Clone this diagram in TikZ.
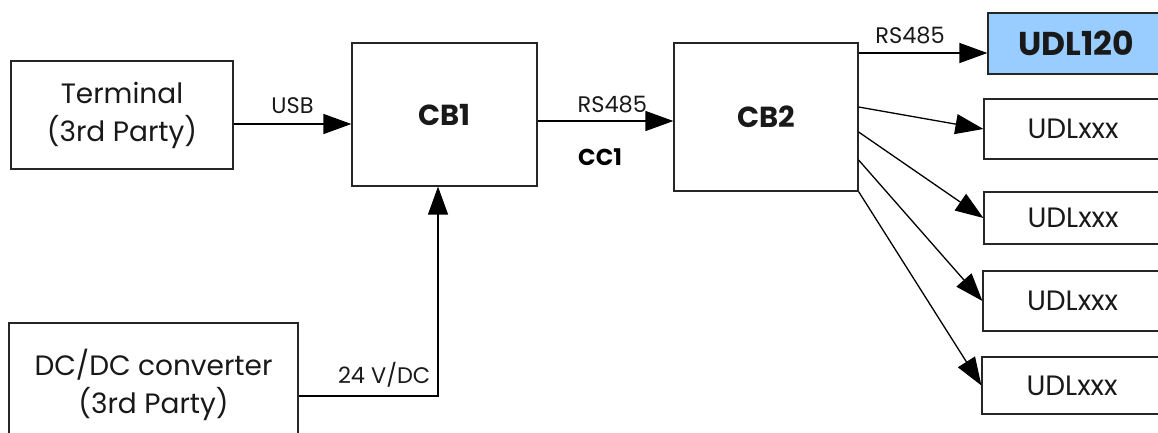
\documentclass[tikz,border=0pt]{standalone}
\usepackage{fontspec}
\setmainfont{Poppins}
\usetikzlibrary{positioning,arrows.meta,calc}
\tikzset{
  % --- boxes -------------------------------------------------------------
  base/.style   ={draw=black!85, line width=1.2pt, align=center, inner sep=2pt,
                  font=\fontsize{28}{38}\selectfont, text=black!90},
  unit/.style   ={base, fill=white},                  % board / device
  board/.style  ={base, font=\fontsize{29}{34}\selectfont\bfseries},
  target/.style ={base, fill=udlblue, font=\fontsize{33}{38}\selectfont\bfseries},
  % --- arrows ------------------------------------------------------------
  arrow/.style  ={-{Triangle[length=28pt,width=20pt]}, line width=1.3pt, draw=black},
  wire/.style   ={line width=1.3pt, draw=black},
  % --- labels ------------------------------------------------------------
  lab/.style    ={font=\fontsize{22.5}{26}\selectfont, text=black!90, inner sep=3pt},
  tag/.style    ={font=\fontsize{23}{26}\selectfont\bfseries, text=black},
}
\definecolor{udlblue}{HTML}{99CCFF}

\begin{document}
\begin{tikzpicture}[x=1pt, y=-1pt]
  \useasboundingbox (0,0) rectangle (1158,432);

  % ===================== left side =====================
  \node[unit, minimum width=222pt, minimum height=108pt] (term) at (122,115)
    {Terminal\\(3rd Party)};
  \node[unit, minimum width=289pt, minimum height=124pt] (dcdc) at (153.5,385)
    {DC/DC converter\\(3rd Party)};

  % ===================== control boards =====================
  \node[board, minimum width=185pt, minimum height=143pt] (cb1) at (444.5,114.5) {CB1};
  \node[board, minimum width=184pt, minimum height=148pt] (cb2) at (766,117) {CB2};

  % ===================== field units =====================
  \node[target, minimum width=176pt, minimum height=61pt] (udl120) at (1076,43.5) {UDL120};
  \node[unit, minimum width=178pt, minimum height=60pt] (udla) at (1073,129) {UDLxxx};
  \node[unit, minimum width=178pt, minimum height=52pt] (udlb) at (1073,218) {UDLxxx};
  \node[unit, minimum width=179pt, minimum height=60pt] (udlc) at (1072.5,301) {UDLxxx};
  \node[unit, minimum width=180pt, minimum height=57pt] (udld) at (1072,385.5) {UDLxxx};

  % ===================== edges =====================
  \draw[arrow] ([yshift=-9pt]term.east) -- node[lab,above=7pt,pos=0.5]{USB}
    ([yshift=-9pt]term.east -| cb1.west);
  \draw[arrow] ([yshift=-6.5pt]cb1.east) -- node[lab,above=4pt,pos=0.55]{RS485}
    node[tag,below=24pt,pos=0.46]{CC1} ([yshift=-6.5pt]cb1.east -| cb2.west);
  \draw[wire, -{Triangle[length=28pt,width=20pt]}] ([yshift=-11pt]dcdc.east)
    -| node[lab,above left=5pt and 4pt,pos=0.5]{24 V/DC} ([xshift=-6.5pt]cb1.south);
  % bus to the field units
  \draw[arrow] ([yshift=-9.5pt]udl120.west -| cb2.east) -- node[lab,above=5pt,pos=0.4]{RS485}
    ([yshift=-9.5pt]udl120.west);
  \draw[arrow] ([yshift=10pt]cb2.east) -- (udla.west);
  \draw[arrow] ([yshift=-15pt]cb2.east) -- (udlb.west);
  \draw[arrow] ([yshift=-43pt]cb2.east) -- (udlc.west);
  \draw[arrow] (cb2.south east) -- (udld.west);

\end{tikzpicture}
\end{document}
